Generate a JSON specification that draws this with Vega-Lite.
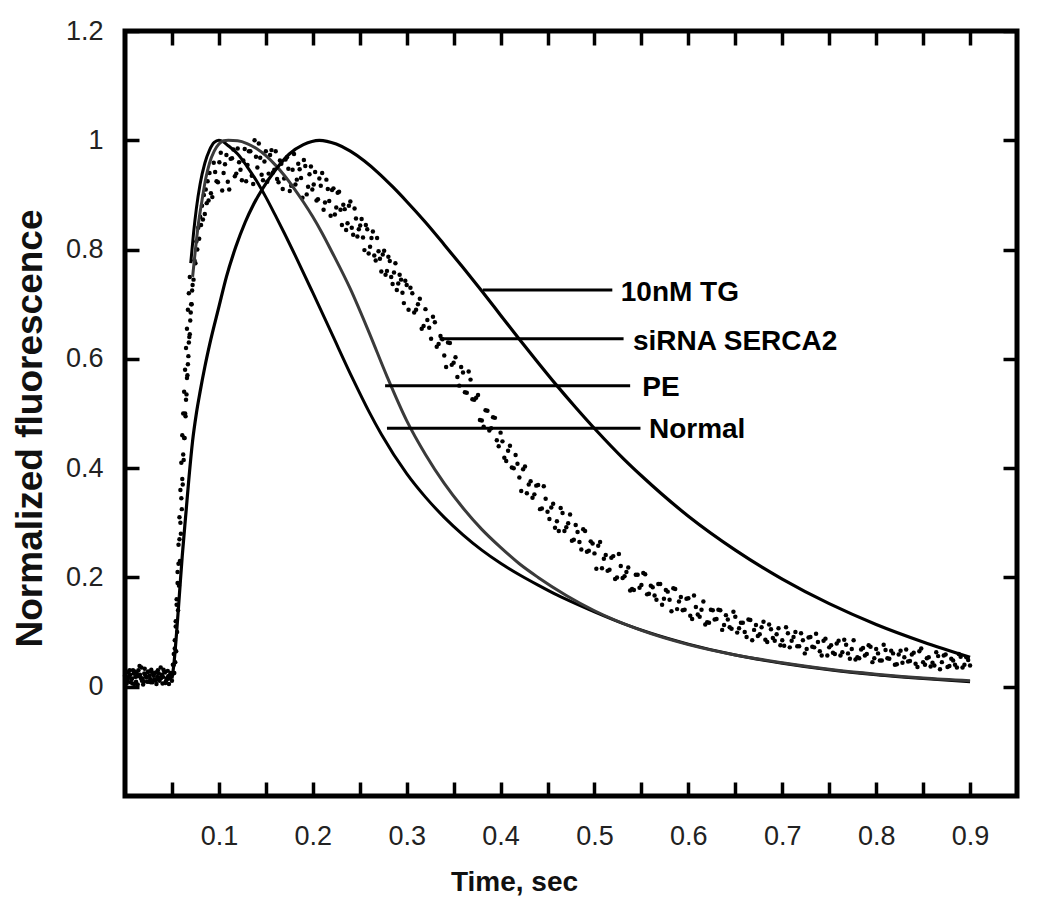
{
  "$schema": "https://vega.github.io/schema/vega-lite/v6.json",
  "width": 892,
  "height": 765,
  "autosize": "none",
  "padding": {"left": 125, "top": 31, "right": 25, "bottom": 119},
  "background": "white",
  "config": {
    "view": {"stroke": "black", "strokeWidth": 5},
    "font": "Liberation Sans",
    "axis": {"grid": false, "domain": false, "tickColor": "black", "tickWidth": 3.5, "tickSize": -14, "labelOverlap": false, "labelFlush": false, "labelFont": "Liberation Sans", "labelFontSize": 27, "labelColor": "#222", "titleFont": "Liberation Sans", "titleFontSize": 28, "titleFontWeight": "bold", "titleColor": "#111"}
  },
  "datasets": {
    "siRNA": [
      {"time":0.051,"fluor":0.04},{"time":0.052,"fluor":0.06},{"time":0.053,"fluor":0.085},{"time":0.054,"fluor":0.12},{"time":0.055,"fluor":0.15},{"time":0.056,"fluor":0.19},{"time":0.057,"fluor":0.225},{"time":0.058,"fluor":0.27},{"time":0.059,"fluor":0.3},{"time":0.06,"fluor":0.345},{"time":0.061,"fluor":0.38},{"time":0.062,"fluor":0.425},{"time":0.063,"fluor":0.455},{"time":0.064,"fluor":0.5},{"time":0.065,"fluor":0.525},{"time":0.066,"fluor":0.565},{"time":0.067,"fluor":0.59},{"time":0.068,"fluor":0.63},{"time":0.069,"fluor":0.645},{"time":0.07,"fluor":0.685},{"time":0.071,"fluor":0.7},{"time":0.072,"fluor":0.735},{"time":0.073,"fluor":0.745},{"time":0.074,"fluor":0.78},{"time":0.075,"fluor":0.775},{"time":0.076,"fluor":0.815},{"time":0.077,"fluor":0.8},{"time":0.078,"fluor":0.84},{"time":0.079,"fluor":0.82},{"time":0.08,"fluor":0.86},{"time":0.081,"fluor":0.845},{"time":0.082,"fluor":0.88},{"time":0.083,"fluor":0.855},{"time":0.084,"fluor":0.9},{"time":0.085,"fluor":0.865},{"time":0.086,"fluor":0.91},{"time":0.087,"fluor":0.885},{"time":0.088,"fluor":0.925},{"time":0.089,"fluor":0.89},
      {"time":0.090,"fluor":0.94},{"time":0.093,"fluor":0.896},{"time":0.096,"fluor":0.942},{"time":0.099,"fluor":0.923},{"time":0.102,"fluor":0.977},{"time":0.105,"fluor":0.94},{"time":0.108,"fluor":0.973},{"time":0.111,"fluor":0.91},{"time":0.114,"fluor":0.967},{"time":0.117,"fluor":0.934},{"time":0.120,"fluor":0.985},{"time":0.123,"fluor":0.946},{"time":0.126,"fluor":0.963},{"time":0.129,"fluor":0.925},{"time":0.132,"fluor":0.98},{"time":0.135,"fluor":0.935},{"time":0.138,"fluor":1.0},{"time":0.141,"fluor":0.95},{"time":0.144,"fluor":0.968},{"time":0.147,"fluor":0.927},{"time":0.150,"fluor":0.98},{"time":0.153,"fluor":0.939},{"time":0.156,"fluor":0.982},{"time":0.159,"fluor":0.946},{"time":0.162,"fluor":0.929},{"time":0.165,"fluor":0.963},{"time":0.168,"fluor":0.911},{"time":0.171,"fluor":0.965},{"time":0.174,"fluor":0.948},{"time":0.177,"fluor":0.917},{"time":0.180,"fluor":0.975},{"time":0.183,"fluor":0.928},{"time":0.186,"fluor":0.947},{"time":0.189,"fluor":0.895},{"time":0.192,"fluor":0.953},{"time":0.195,"fluor":0.915},{"time":0.198,"fluor":0.952},{"time":0.201,"fluor":0.919},{"time":0.204,"fluor":0.89},{"time":0.207,"fluor":0.93},{"time":0.210,"fluor":0.94},{"time":0.213,"fluor":0.886},{"time":0.216,"fluor":0.911},{"time":0.219,"fluor":0.862},{"time":0.222,"fluor":0.912},{"time":0.225,"fluor":0.877},{"time":0.228,"fluor":0.906},{"time":0.231,"fluor":0.845},{"time":0.234,"fluor":0.874},{"time":0.237,"fluor":0.848},{"time":0.240,"fluor":0.888},{"time":0.243,"fluor":0.827},{"time":0.246,"fluor":0.857},{"time":0.249,"fluor":0.837},{"time":0.252,"fluor":0.856},{"time":0.255,"fluor":0.799},{"time":0.258,"fluor":0.837},{"time":0.261,"fluor":0.805},{"time":0.264,"fluor":0.833},{"time":0.267,"fluor":0.78},{"time":0.270,"fluor":0.797},{"time":0.273,"fluor":0.76},{"time":0.276,"fluor":0.798},{"time":0.279,"fluor":0.761},{"time":0.282,"fluor":0.779},{"time":0.285,"fluor":0.737},{"time":0.288,"fluor":0.775},{"time":0.291,"fluor":0.738},{"time":0.294,"fluor":0.745},{"time":0.297,"fluor":0.702},{"time":0.300,"fluor":0.735},
      {"time":0.0915,"fluor":0.903},{"time":0.0945,"fluor":0.959},{"time":0.0975,"fluor":0.925},{"time":0.1005,"fluor":0.96},{"time":0.1035,"fluor":0.908},{"time":0.1065,"fluor":0.956},{"time":0.1095,"fluor":0.924},{"time":0.1125,"fluor":0.966},{"time":0.1155,"fluor":0.983},{"time":0.1185,"fluor":0.939},{"time":0.1215,"fluor":0.96},{"time":0.1245,"fluor":0.927},{"time":0.1275,"fluor":0.984},{"time":0.1305,"fluor":0.955},{"time":0.1335,"fluor":0.98},{"time":0.1365,"fluor":0.92},{"time":0.1395,"fluor":0.97},{"time":0.1425,"fluor":0.994},{"time":0.1455,"fluor":0.937},{"time":0.1485,"fluor":0.961},{"time":0.1515,"fluor":0.924},{"time":0.1545,"fluor":0.973},{"time":0.1575,"fluor":0.941},{"time":0.1605,"fluor":0.98},{"time":0.1635,"fluor":0.923},{"time":0.1665,"fluor":0.957},{"time":0.1695,"fluor":0.93},{"time":0.1725,"fluor":0.969},{"time":0.1755,"fluor":0.907},{"time":0.1785,"fluor":0.946},{"time":0.1815,"fluor":0.919},{"time":0.1845,"fluor":0.957},{"time":0.1875,"fluor":0.931},{"time":0.1905,"fluor":0.964},{"time":0.1935,"fluor":0.901},{"time":0.1965,"fluor":0.938},{"time":0.1995,"fluor":0.91},{"time":0.2025,"fluor":0.942},{"time":0.2055,"fluor":0.892},{"time":0.2085,"fluor":0.917},{"time":0.2115,"fluor":0.873},{"time":0.2145,"fluor":0.928},{"time":0.2175,"fluor":0.889},{"time":0.2205,"fluor":0.909},{"time":0.2235,"fluor":0.864},{"time":0.2265,"fluor":0.904},{"time":0.2295,"fluor":0.873},{"time":0.2325,"fluor":0.882},{"time":0.2355,"fluor":0.836},{"time":0.2385,"fluor":0.88},{"time":0.2415,"fluor":0.84},{"time":0.2445,"fluor":0.875},{"time":0.2475,"fluor":0.824},{"time":0.2505,"fluor":0.844},{"time":0.2535,"fluor":0.822},{"time":0.2565,"fluor":0.845},{"time":0.2595,"fluor":0.793},{"time":0.2625,"fluor":0.821},{"time":0.2655,"fluor":0.789},{"time":0.2685,"fluor":0.821},{"time":0.2715,"fluor":0.783},{"time":0.2745,"fluor":0.791},{"time":0.2775,"fluor":0.754},{"time":0.2805,"fluor":0.787},{"time":0.2835,"fluor":0.75},{"time":0.2865,"fluor":0.758},{"time":0.2895,"fluor":0.726},{"time":0.2925,"fluor":0.754},{"time":0.2955,"fluor":0.721},{"time":0.2985,"fluor":0.743},
      {"time":0.304,"fluor":0.73},{"time":0.308,"fluor":0.685},{"time":0.312,"fluor":0.70},{"time":0.316,"fluor":0.655},{"time":0.320,"fluor":0.691},{"time":0.324,"fluor":0.657},{"time":0.328,"fluor":0.677},{"time":0.332,"fluor":0.622},{"time":0.336,"fluor":0.642},{"time":0.340,"fluor":0.606},{"time":0.344,"fluor":0.63},{"time":0.348,"fluor":0.589},{"time":0.352,"fluor":0.603},{"time":0.356,"fluor":0.551},{"time":0.360,"fluor":0.575},{"time":0.364,"fluor":0.538},{"time":0.368,"fluor":0.562},{"time":0.372,"fluor":0.525},{"time":0.376,"fluor":0.534},{"time":0.380,"fluor":0.487},{"time":0.384,"fluor":0.506},{"time":0.388,"fluor":0.469},{"time":0.392,"fluor":0.493},{"time":0.396,"fluor":0.451},{"time":0.400,"fluor":0.465},{"time":0.404,"fluor":0.419},{"time":0.408,"fluor":0.432},{"time":0.412,"fluor":0.401},{"time":0.416,"fluor":0.424},{"time":0.420,"fluor":0.383},{"time":0.424,"fluor":0.398},{"time":0.428,"fluor":0.354},{"time":0.432,"fluor":0.376},{"time":0.436,"fluor":0.352},{"time":0.440,"fluor":0.369},{"time":0.444,"fluor":0.326},{"time":0.448,"fluor":0.344},{"time":0.452,"fluor":0.307},{"time":0.456,"fluor":0.335},{"time":0.460,"fluor":0.303},{"time":0.464,"fluor":0.327},{"time":0.468,"fluor":0.285},{"time":0.472,"fluor":0.299},{"time":0.476,"fluor":0.267},{"time":0.480,"fluor":0.296},{"time":0.484,"fluor":0.265},{"time":0.488,"fluor":0.288},{"time":0.492,"fluor":0.247},{"time":0.496,"fluor":0.266},{"time":0.500,"fluor":0.244},{"time":0.504,"fluor":0.258},{"time":0.508,"fluor":0.217},{"time":0.512,"fluor":0.241},{"time":0.516,"fluor":0.214},{"time":0.520,"fluor":0.239},{"time":0.524,"fluor":0.2},{"time":0.528,"fluor":0.221},{"time":0.532,"fluor":0.202},{"time":0.536,"fluor":0.218},{"time":0.540,"fluor":0.179},{"time":0.544,"fluor":0.205},{"time":0.548,"fluor":0.181},{"time":0.552,"fluor":0.208},{"time":0.556,"fluor":0.169},{"time":0.560,"fluor":0.185},{"time":0.564,"fluor":0.167},{"time":0.568,"fluor":0.188},{"time":0.572,"fluor":0.15},{"time":0.576,"fluor":0.177},{"time":0.580,"fluor":0.159},{"time":0.584,"fluor":0.18},{"time":0.588,"fluor":0.142},{"time":0.592,"fluor":0.164},{"time":0.596,"fluor":0.141},{"time":0.600,"fluor":0.162},{"time":0.604,"fluor":0.124},{"time":0.608,"fluor":0.146},{"time":0.612,"fluor":0.128},{"time":0.616,"fluor":0.156},{"time":0.620,"fluor":0.118},{"time":0.624,"fluor":0.141},{"time":0.628,"fluor":0.123},{"time":0.632,"fluor":0.141},{"time":0.636,"fluor":0.104},{"time":0.640,"fluor":0.131},{"time":0.644,"fluor":0.109},{"time":0.648,"fluor":0.137},{"time":0.652,"fluor":0.099},{"time":0.656,"fluor":0.117},{"time":0.660,"fluor":0.1},{"time":0.664,"fluor":0.123},{"time":0.668,"fluor":0.085},{"time":0.672,"fluor":0.113},{"time":0.676,"fluor":0.096},{"time":0.680,"fluor":0.119},{"time":0.684,"fluor":0.082},{"time":0.688,"fluor":0.105},{"time":0.692,"fluor":0.084},{"time":0.696,"fluor":0.107},{"time":0.700,"fluor":0.085},{"time":0.704,"fluor":0.109},{"time":0.708,"fluor":0.072},{"time":0.712,"fluor":0.091},{"time":0.716,"fluor":0.074},{"time":0.720,"fluor":0.098},{"time":0.724,"fluor":0.061},{"time":0.728,"fluor":0.09},{"time":0.732,"fluor":0.073},{"time":0.736,"fluor":0.097},{"time":0.740,"fluor":0.065},{"time":0.744,"fluor":0.084},{"time":0.748,"fluor":0.057},{"time":0.752,"fluor":0.076},{"time":0.756,"fluor":0.06},{"time":0.760,"fluor":0.084},{"time":0.764,"fluor":0.063},{"time":0.768,"fluor":0.077},{"time":0.772,"fluor":0.051},{"time":0.776,"fluor":0.085},{"time":0.780,"fluor":0.054},{"time":0.784,"fluor":0.068},{"time":0.788,"fluor":0.057},{"time":0.792,"fluor":0.076},{"time":0.796,"fluor":0.045},{"time":0.800,"fluor":0.069},{"time":0.804,"fluor":0.048},{"time":0.808,"fluor":0.077},{"time":0.812,"fluor":0.052},{"time":0.816,"fluor":0.066},{"time":0.820,"fluor":0.04},{"time":0.824,"fluor":0.059},{"time":0.828,"fluor":0.044},{"time":0.832,"fluor":0.068},{"time":0.836,"fluor":0.047},{"time":0.840,"fluor":0.062},{"time":0.844,"fluor":0.036},{"time":0.848,"fluor":0.07},{"time":0.852,"fluor":0.04},{"time":0.856,"fluor":0.054},{"time":0.860,"fluor":0.044},{"time":0.864,"fluor":0.063},{"time":0.868,"fluor":0.032},{"time":0.872,"fluor":0.057},{"time":0.876,"fluor":0.036},{"time":0.880,"fluor":0.051},{"time":0.884,"fluor":0.04},{"time":0.888,"fluor":0.06},{"time":0.892,"fluor":0.035},{"time":0.896,"fluor":0.054},{"time":0.900,"fluor":0.039},
      {"time":0.302,"fluor":0.69},{"time":0.306,"fluor":0.72},{"time":0.310,"fluor":0.69},{"time":0.314,"fluor":0.71},{"time":0.318,"fluor":0.66},{"time":0.322,"fluor":0.671},{"time":0.326,"fluor":0.637},{"time":0.330,"fluor":0.667},{"time":0.334,"fluor":0.627},{"time":0.338,"fluor":0.636},{"time":0.342,"fluor":0.585},{"time":0.346,"fluor":0.629},{"time":0.350,"fluor":0.593},{"time":0.354,"fluor":0.567},{"time":0.358,"fluor":0.585},{"time":0.362,"fluor":0.539},{"time":0.366,"fluor":0.577},{"time":0.370,"fluor":0.526},{"time":0.374,"fluor":0.529},{"time":0.378,"fluor":0.488},{"time":0.382,"fluor":0.476},{"time":0.386,"fluor":0.505},{"time":0.390,"fluor":0.473},{"time":0.394,"fluor":0.492},{"time":0.398,"fluor":0.44},{"time":0.402,"fluor":0.449},{"time":0.406,"fluor":0.413},{"time":0.410,"fluor":0.441},{"time":0.414,"fluor":0.4},{"time":0.418,"fluor":0.408},{"time":0.422,"fluor":0.358},{"time":0.426,"fluor":0.403},{"time":0.430,"fluor":0.37},{"time":0.434,"fluor":0.346},{"time":0.438,"fluor":0.368},{"time":0.442,"fluor":0.325},{"time":0.446,"fluor":0.367},{"time":0.450,"fluor":0.32},{"time":0.454,"fluor":0.328},{"time":0.458,"fluor":0.291},{"time":0.462,"fluor":0.285},{"time":0.466,"fluor":0.318},{"time":0.470,"fluor":0.292},{"time":0.474,"fluor":0.315},{"time":0.478,"fluor":0.269},{"time":0.482,"fluor":0.283},{"time":0.486,"fluor":0.251},{"time":0.490,"fluor":0.285},{"time":0.494,"fluor":0.249},{"time":0.498,"fluor":0.262},{"time":0.502,"fluor":0.216},{"time":0.506,"fluor":0.265},{"time":0.510,"fluor":0.234},{"time":0.514,"fluor":0.212},{"time":0.518,"fluor":0.236},{"time":0.522,"fluor":0.197},{"time":0.526,"fluor":0.243},{"time":0.530,"fluor":0.199},{"time":0.534,"fluor":0.21},{"time":0.538,"fluor":0.176},{"time":0.542,"fluor":0.177},{"time":0.546,"fluor":0.205},{"time":0.550,"fluor":0.186},{"time":0.554,"fluor":0.206},{"time":0.558,"fluor":0.17},{"time":0.562,"fluor":0.182},{"time":0.566,"fluor":0.159},{"time":0.570,"fluor":0.188},{"time":0.574,"fluor":0.161},{"time":0.578,"fluor":0.174},{"time":0.582,"fluor":0.138},{"time":0.586,"fluor":0.179},{"time":0.590,"fluor":0.156},{"time":0.594,"fluor":0.14},{"time":0.598,"fluor":0.161},{"time":0.602,"fluor":0.13},{"time":0.606,"fluor":0.167},{"time":0.610,"fluor":0.132},{"time":0.614,"fluor":0.141},{"time":0.618,"fluor":0.114},{"time":0.622,"fluor":0.117},{"time":0.626,"fluor":0.14},{"time":0.630,"fluor":0.124},{"time":0.634,"fluor":0.14},{"time":0.638,"fluor":0.113},{"time":0.642,"fluor":0.123},{"time":0.646,"fluor":0.106},{"time":0.650,"fluor":0.128},{"time":0.654,"fluor":0.107},{"time":0.658,"fluor":0.117},{"time":0.662,"fluor":0.091},{"time":0.666,"fluor":0.122},{"time":0.670,"fluor":0.104},{"time":0.674,"fluor":0.093},{"time":0.678,"fluor":0.109},{"time":0.682,"fluor":0.086},{"time":0.686,"fluor":0.114},{"time":0.690,"fluor":0.089},{"time":0.694,"fluor":0.096},{"time":0.698,"fluor":0.076},{"time":0.702,"fluor":0.075},{"time":0.706,"fluor":0.098},{"time":0.710,"fluor":0.084},{"time":0.714,"fluor":0.1},{"time":0.718,"fluor":0.074},{"time":0.722,"fluor":0.085},{"time":0.726,"fluor":0.069},{"time":0.730,"fluor":0.091},{"time":0.734,"fluor":0.072},{"time":0.738,"fluor":0.082},{"time":0.742,"fluor":0.057},{"time":0.746,"fluor":0.088},{"time":0.750,"fluor":0.072},{"time":0.754,"fluor":0.062},{"time":0.758,"fluor":0.079},{"time":0.762,"fluor":0.057},{"time":0.766,"fluor":0.086},{"time":0.770,"fluor":0.061},{"time":0.774,"fluor":0.069},{"time":0.778,"fluor":0.05},{"time":0.782,"fluor":0.052},{"time":0.786,"fluor":0.071},{"time":0.790,"fluor":0.06},{"time":0.794,"fluor":0.073},{"time":0.798,"fluor":0.052},{"time":0.802,"fluor":0.061},{"time":0.806,"fluor":0.048},{"time":0.810,"fluor":0.067},{"time":0.814,"fluor":0.051},{"time":0.818,"fluor":0.061},{"time":0.822,"fluor":0.041},{"time":0.826,"fluor":0.066},{"time":0.830,"fluor":0.054},{"time":0.834,"fluor":0.046},{"time":0.838,"fluor":0.059},{"time":0.842,"fluor":0.042},{"time":0.846,"fluor":0.065},{"time":0.850,"fluor":0.045},{"time":0.854,"fluor":0.052},{"time":0.858,"fluor":0.037},{"time":0.862,"fluor":0.039},{"time":0.866,"fluor":0.056},{"time":0.870,"fluor":0.045},{"time":0.874,"fluor":0.059},{"time":0.878,"fluor":0.038},{"time":0.882,"fluor":0.048},{"time":0.886,"fluor":0.035},{"time":0.890,"fluor":0.055},{"time":0.894,"fluor":0.04},{"time":0.898,"fluor":0.049}
    ],
    "otherDots": [
      {"time":0,"fluor":0.02},{"time":0.0025,"fluor":0.01},{"time":0.005,"fluor":0.03},{"time":0.0075,"fluor":0.015},{"time":0.01,"fluor":0.005},{"time":0.0125,"fluor":0.025},{"time":0.015,"fluor":0.02},{"time":0.0175,"fluor":0.035},{"time":0.02,"fluor":0.01},{"time":0.0225,"fluor":0.018},{"time":0.025,"fluor":0.028},{"time":0.0275,"fluor":0.008},{"time":0.03,"fluor":0.022},{"time":0.0325,"fluor":0.012},{"time":0.035,"fluor":0.03},{"time":0.0375,"fluor":0.017},{"time":0.04,"fluor":0.006},{"time":0.0425,"fluor":0.026},{"time":0.045,"fluor":0.014},{"time":0.0475,"fluor":0.021},{"time":0.05,"fluor":0.011},
      {"time":0.001,"fluor":0.012},{"time":0.0035,"fluor":0.026},{"time":0.006,"fluor":0.008},{"time":0.0085,"fluor":0.03},{"time":0.011,"fluor":0.018},{"time":0.0135,"fluor":0.004},{"time":0.016,"fluor":0.022},{"time":0.0185,"fluor":0.015},{"time":0.021,"fluor":0.033},{"time":0.0235,"fluor":0.009},{"time":0.026,"fluor":0.02},{"time":0.0285,"fluor":0.027},{"time":0.031,"fluor":0.013},{"time":0.0335,"fluor":0.005},{"time":0.036,"fluor":0.024},{"time":0.0385,"fluor":0.016},{"time":0.041,"fluor":0.031},{"time":0.0435,"fluor":0.01},{"time":0.046,"fluor":0.019},{"time":0.0485,"fluor":0.025},
      {"time":0.0005,"fluor":0.03},{"time":0.003,"fluor":0.015},{"time":0.0055,"fluor":0.022},{"time":0.008,"fluor":0.006},{"time":0.0105,"fluor":0.028},{"time":0.013,"fluor":0.019},{"time":0.0155,"fluor":0.038},{"time":0.018,"fluor":0.011},{"time":0.0205,"fluor":0.024},{"time":0.023,"fluor":0.017},{"time":0.0255,"fluor":0.009},{"time":0.028,"fluor":0.031},{"time":0.0305,"fluor":0.02},{"time":0.033,"fluor":0.026},{"time":0.0355,"fluor":0.013},{"time":0.038,"fluor":0.035},{"time":0.0405,"fluor":0.018},{"time":0.043,"fluor":0.007},{"time":0.0455,"fluor":0.029},{"time":0.048,"fluor":0.015},{"time":0.0505,"fluor":0.023},
      {"time":0.0018,"fluor":0.006},{"time":0.0043,"fluor":0.019},{"time":0.0068,"fluor":0.013},{"time":0.0093,"fluor":0.024},{"time":0.0118,"fluor":0.009},{"time":0.0143,"fluor":0.03},{"time":0.0168,"fluor":0.016},{"time":0.0193,"fluor":0.004},{"time":0.0218,"fluor":0.021},{"time":0.0243,"fluor":0.027},{"time":0.0268,"fluor":0.014},{"time":0.0293,"fluor":0.008},{"time":0.0318,"fluor":0.025},{"time":0.0343,"fluor":0.018},{"time":0.0368,"fluor":0.011},{"time":0.0393,"fluor":0.022},{"time":0.0418,"fluor":0.028},{"time":0.0443,"fluor":0.015},{"time":0.0468,"fluor":0.005},{"time":0.0493,"fluor":0.02},
      {"time":0.051,"fluor":0.025},{"time":0.052,"fluor":0.04},{"time":0.053,"fluor":0.07},{"time":0.054,"fluor":0.11},{"time":0.055,"fluor":0.16},{"time":0.056,"fluor":0.21},{"time":0.057,"fluor":0.26},{"time":0.058,"fluor":0.31},{"time":0.059,"fluor":0.36},{"time":0.06,"fluor":0.41},{"time":0.061,"fluor":0.46},{"time":0.062,"fluor":0.5},{"time":0.063,"fluor":0.54},{"time":0.064,"fluor":0.58},{"time":0.065,"fluor":0.62},{"time":0.066,"fluor":0.655},{"time":0.067,"fluor":0.69},{"time":0.068,"fluor":0.72},{"time":0.069,"fluor":0.75},
      {"time":0.0525,"fluor":0.025},{"time":0.0535,"fluor":0.045},{"time":0.0545,"fluor":0.065},{"time":0.0555,"fluor":0.1},{"time":0.0565,"fluor":0.14},{"time":0.0575,"fluor":0.185},{"time":0.0585,"fluor":0.23},{"time":0.0595,"fluor":0.28},{"time":0.0605,"fluor":0.325},{"time":0.0615,"fluor":0.37},{"time":0.0625,"fluor":0.415},{"time":0.0635,"fluor":0.455},{"time":0.0645,"fluor":0.495},{"time":0.0655,"fluor":0.535},{"time":0.0665,"fluor":0.57},{"time":0.0675,"fluor":0.605},{"time":0.0685,"fluor":0.64},{"time":0.0695,"fluor":0.67},{"time":0.0705,"fluor":0.7},{"time":0.0715,"fluor":0.725}
    ],
    "normal": [
      {"time":0.07,"fluor":0.775},{"time":0.073,"fluor":0.83},{"time":0.076,"fluor":0.875},{"time":0.08,"fluor":0.92},{"time":0.085,"fluor":0.958},{"time":0.09,"fluor":0.982},{"time":0.095,"fluor":0.996},{"time":0.1,"fluor":1.0},{"time":0.105,"fluor":0.997},{"time":0.11,"fluor":0.99},{"time":0.12,"fluor":0.975},{"time":0.13,"fluor":0.952},{"time":0.14,"fluor":0.926},{"time":0.15,"fluor":0.896},{"time":0.16,"fluor":0.863},{"time":0.17,"fluor":0.829},{"time":0.183,"fluor":0.783},{"time":0.2,"fluor":0.721},{"time":0.22,"fluor":0.647},{"time":0.243,"fluor":0.562},{"time":0.26,"fluor":0.503},{"time":0.273,"fluor":0.462},{"time":0.3,"fluor":0.39},{"time":0.32,"fluor":0.347},{"time":0.34,"fluor":0.31},{"time":0.36,"fluor":0.278},{"time":0.38,"fluor":0.25},{"time":0.4,"fluor":0.226},{"time":0.42,"fluor":0.205},{"time":0.44,"fluor":0.186},{"time":0.46,"fluor":0.168},{"time":0.48,"fluor":0.152},{"time":0.5,"fluor":0.137},{"time":0.53,"fluor":0.116},{"time":0.56,"fluor":0.098},{"time":0.6,"fluor":0.078},{"time":0.65,"fluor":0.058},{"time":0.7,"fluor":0.043},{"time":0.75,"fluor":0.031},{"time":0.8,"fluor":0.022},{"time":0.85,"fluor":0.015},{"time":0.9,"fluor":0.009}
    ],
    "pe": [
      {"time":0.072,"fluor":0.75},{"time":0.075,"fluor":0.8},{"time":0.078,"fluor":0.845},{"time":0.082,"fluor":0.89},{"time":0.086,"fluor":0.93},{"time":0.09,"fluor":0.958},{"time":0.095,"fluor":0.98},{"time":0.1,"fluor":0.993},{"time":0.105,"fluor":0.999},{"time":0.11,"fluor":1.0},{"time":0.12,"fluor":0.999},{"time":0.13,"fluor":0.994},{"time":0.14,"fluor":0.985},{"time":0.15,"fluor":0.972},{"time":0.16,"fluor":0.955},{"time":0.17,"fluor":0.935},{"time":0.18,"fluor":0.912},{"time":0.19,"fluor":0.887},{"time":0.2,"fluor":0.86},{"time":0.21,"fluor":0.83},{"time":0.22,"fluor":0.797},{"time":0.24,"fluor":0.728},{"time":0.26,"fluor":0.648},{"time":0.279,"fluor":0.568},{"time":0.3,"fluor":0.487},{"time":0.32,"fluor":0.425},{"time":0.34,"fluor":0.372},{"time":0.36,"fluor":0.327},{"time":0.38,"fluor":0.288},{"time":0.4,"fluor":0.255},{"time":0.42,"fluor":0.225},{"time":0.44,"fluor":0.2},{"time":0.47,"fluor":0.167},{"time":0.5,"fluor":0.139},{"time":0.55,"fluor":0.103},{"time":0.6,"fluor":0.077},{"time":0.65,"fluor":0.058},{"time":0.7,"fluor":0.044},{"time":0.75,"fluor":0.032},{"time":0.8,"fluor":0.023},{"time":0.85,"fluor":0.016},{"time":0.9,"fluor":0.011}
    ],
    "tg": [
      {"time":0.05,"fluor":0.015},{"time":0.052,"fluor":0.04},{"time":0.055,"fluor":0.1},{"time":0.058,"fluor":0.17},{"time":0.061,"fluor":0.24},{"time":0.065,"fluor":0.32},{"time":0.068,"fluor":0.38},{"time":0.072,"fluor":0.45},{"time":0.076,"fluor":0.5},{"time":0.08,"fluor":0.54},{"time":0.085,"fluor":0.585},{"time":0.09,"fluor":0.625},{"time":0.1,"fluor":0.695},{"time":0.108,"fluor":0.75},{"time":0.118,"fluor":0.805},{"time":0.128,"fluor":0.85},{"time":0.137,"fluor":0.883},{"time":0.146,"fluor":0.91},{"time":0.16,"fluor":0.945},{"time":0.175,"fluor":0.975},{"time":0.19,"fluor":0.992},{"time":0.207,"fluor":1.0},{"time":0.225,"fluor":0.993},{"time":0.24,"fluor":0.98},{"time":0.255,"fluor":0.962},{"time":0.27,"fluor":0.94},{"time":0.285,"fluor":0.915},{"time":0.3,"fluor":0.888},{"time":0.32,"fluor":0.85},{"time":0.34,"fluor":0.809},{"time":0.36,"fluor":0.767},{"time":0.38,"fluor":0.724},{"time":0.4,"fluor":0.68},{"time":0.42,"fluor":0.636},{"time":0.44,"fluor":0.593},{"time":0.46,"fluor":0.551},{"time":0.48,"fluor":0.511},{"time":0.503,"fluor":0.467},{"time":0.531,"fluor":0.417},{"time":0.55,"fluor":0.386},{"time":0.6,"fluor":0.312},{"time":0.65,"fluor":0.25},{"time":0.7,"fluor":0.197},{"time":0.75,"fluor":0.152},{"time":0.8,"fluor":0.114},{"time":0.85,"fluor":0.082},{"time":0.9,"fluor":0.054}
    ],
    "labels": [
      {"label":"10nM TG","x1":0.381,"x2":0.519,"y":0.726,"tx":0.528,"ty":0.721},
      {"label":"siRNA SERCA2","x1":0.335,"x2":0.531,"y":0.637,"tx":0.541,"ty":0.630},
      {"label":"PE","x1":0.277,"x2":0.538,"y":0.551,"tx":0.551,"ty":0.546},
      {"label":"Normal","x1":0.279,"x2":0.549,"y":0.473,"tx":0.558,"ty":0.469}
    ]
  },
  "layer": [
    {
      "data": {"name": "siRNA"},
      "mark": {"type": "point", "filled": true, "size": 20, "color": "black", "opacity": 1},
      "encoding": {
        "x": {"field": "time", "type": "quantitative", "scale": {"domain": [0, 0.95], "nice": false, "zero": false},
          "axis": {"orient": "bottom", "values": [0.05,0.1,0.15,0.2,0.25,0.3,0.35,0.4,0.45,0.5,0.55,0.6,0.65,0.7,0.75,0.8,0.85,0.9], "format": "~g", "labelExpr": "round(datum.value*100) % 10 == 0 ? datum.label : ''", "labelPadding": 41, "title": "Time, sec", "titleX": 389, "titleY": 86, "titleAlign": "center", "titleBaseline": "middle"}},
        "y": {"field": "fluor", "type": "quantitative", "scale": {"domain": [-0.2, 1.2], "nice": false, "zero": false},
          "axis": {"orient": "left", "values": [0,0.2,0.4,0.6,0.8,1,1.2], "format": "~g", "labelPadding": 36, "title": "Normalized fluorescence", "titleFontSize": 37, "titleX": -95, "titleY": 397, "titleAlign": "center", "titleBaseline": "middle", "titleAngle": -90}}
      }
    },
    {
      "data": {"name": "otherDots"},
      "mark": {"type": "point", "filled": true, "size": 20, "color": "black", "opacity": 1},
      "encoding": {
        "x": {"field": "time", "type": "quantitative", "scale": {"domain": [0, 0.95], "nice": false, "zero": false}, "axis": null},
        "y": {"field": "fluor", "type": "quantitative", "scale": {"domain": [-0.2, 1.2], "nice": false, "zero": false}, "axis": null}
      }
    },
    {
      "data": {"name": "normal"},
      "mark": {"type": "line", "color": "black", "strokeWidth": 3, "interpolate": "monotone"},
      "encoding": {
        "x": {"field": "time", "type": "quantitative", "scale": {"domain": [0, 0.95], "nice": false, "zero": false}, "axis": null},
        "y": {"field": "fluor", "type": "quantitative", "scale": {"domain": [-0.2, 1.2], "nice": false, "zero": false}, "axis": null}
      }
    },
    {
      "data": {"name": "pe"},
      "mark": {"type": "line", "color": "#3a3a3a", "strokeWidth": 3, "interpolate": "monotone"},
      "encoding": {
        "x": {"field": "time", "type": "quantitative", "scale": {"domain": [0, 0.95], "nice": false, "zero": false}, "axis": null},
        "y": {"field": "fluor", "type": "quantitative", "scale": {"domain": [-0.2, 1.2], "nice": false, "zero": false}, "axis": null}
      }
    },
    {
      "data": {"name": "tg"},
      "mark": {"type": "line", "color": "black", "strokeWidth": 3.2, "interpolate": "monotone"},
      "encoding": {
        "x": {"field": "time", "type": "quantitative", "scale": {"domain": [0, 0.95], "nice": false, "zero": false}, "axis": null},
        "y": {"field": "fluor", "type": "quantitative", "scale": {"domain": [-0.2, 1.2], "nice": false, "zero": false}, "axis": null}
      }
    },
    {
      "data": {"name": "labels"},
      "mark": {"type": "rule", "color": "black", "strokeWidth": 3},
      "encoding": {
        "x": {"field": "x1", "type": "quantitative", "scale": {"domain": [0, 0.95], "nice": false, "zero": false},
          "axis": {"orient": "top", "values": [0.05,0.1,0.15,0.2,0.25,0.3,0.35,0.4,0.45,0.5,0.55,0.6,0.65,0.7,0.75,0.8,0.85,0.9], "labels": false, "title": null}},
        "x2": {"field": "x2"},
        "y": {"field": "y", "type": "quantitative", "scale": {"domain": [-0.2, 1.2], "nice": false, "zero": false},
          "axis": {"orient": "right", "values": [0,0.2,0.4,0.6,0.8,1,1.2], "labels": false, "title": null}}
      }
    },
    {
      "data": {"name": "labels"},
      "mark": {"type": "text", "align": "left", "baseline": "middle", "fontSize": 28, "fontWeight": "bold", "font": "Liberation Sans", "color": "black"},
      "encoding": {
        "x": {"field": "tx", "type": "quantitative", "scale": {"domain": [0, 0.95], "nice": false, "zero": false}, "axis": null},
        "y": {"field": "ty", "type": "quantitative", "scale": {"domain": [-0.2, 1.2], "nice": false, "zero": false}, "axis": null},
        "text": {"field": "label"}
      }
    }
  ]
}
